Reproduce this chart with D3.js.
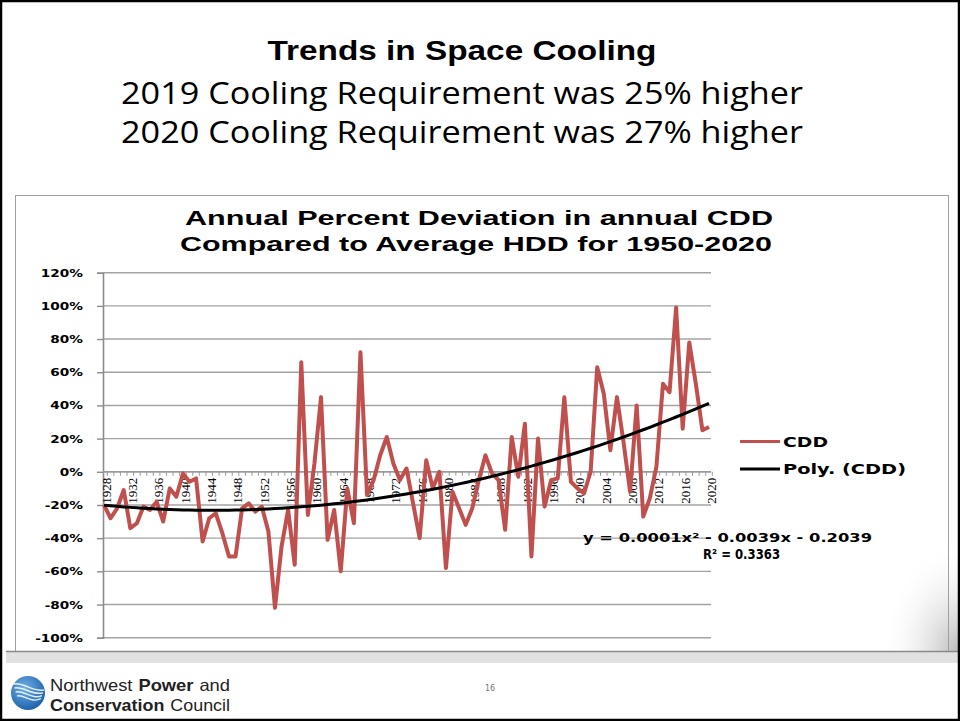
<!DOCTYPE html>
<html>
<head>
<meta charset="utf-8">
<script src="https://cdn.jsdelivr.net/npm/d3@7"></script>
<style>
  html, body { margin: 0; padding: 0; background: #fff; }
  svg { display: block; }
</style>
</head>
<body>
<svg id="chart" width="960" height="721"></svg>
<script>
// ---------------- DATA ----------------
const years = [1928,1929,1930,1931,1932,1933,1934,1935,1936,1937,
  1938,1939,1940,1941,1942,1943,1944,1945,1946,1947,
  1948,1949,1950,1951,1952,1953,1954,1955,1956,1957,
  1958,1959,1960,1961,1962,1963,1964,1965,1966,1967,
  1968,1969,1970,1971,1972,1973,1974,1975,1976,1977,
  1978,1979,1980,1981,1982,1983,1984,1985,1986,1987,
  1988,1989,1990,1991,1992,1993,1994,1995,1996,1997,
  1998,1999,2000,2001,2002,2003,2004,2005,2006,2007,
  2008,2009,2010,2011,2012,2013,2014,2015,2016,2017,
  2018,2019,2020];
// CDD percent deviation
const cddValues = [-20,-28,-22,-11,-34,-31,-21,-23,-18,-30,
  -10,-15,-1,-6,-4,-42,-28,-25,-37,-51,
  -51,-22,-19,-24,-21,-36,-82,-45,-23,-56,
  66,-26,5,45,-41,-23,-60,-10,-31,72,
  -14,-5,10,21,5,-5,2,-19,-40,7,
  -10,0,-58,-12,-22,-32,-22,-5,10,-1,
  -5,-35,21,-3,29,-51,20,-21,-5,-4,
  45,-6,-10,-13,0,63,47,13,45,18,
  -12,40,-27,-16,3,53,48,99,26,78,
  53,25,27];
const xTickLabels = [1928,1932,1936,1940,1944,1948,1952,1956,1960,1964,1968,1972,1976,1980,1984,1988,1992,1996,2000,2004,2008,2012,2016,2020];
const yTicks = [-100,-80,-60,-40,-20,0,20,40,60,80,100,120];
const seriesNames = ["CDD", "Poly. (CDD)"];
const equationText = "y = 0.0001x² - 0.0039x - 0.2039";
const r2Text = "R² = 0.3363";

// ---------------- HELPERS ----------------
const svg = d3.select("#chart");
function txt(g, s, x, y, o) {
  const t = g.append("text").attr("x", x).attr("y", y).text(s)
    .attr("font-family", o.family || "DejaVu Sans")
    .attr("font-size", o.size || 12)
    .attr("font-weight", o.weight || "normal")
    .attr("fill", o.fill || "#000")
    .attr("text-anchor", o.anchor || "start");
  if (o.width) t.attr("textLength", o.width).attr("lengthAdjust", "spacingAndGlyphs");
  if (o.stretch) {
    const w = t.node().getComputedTextLength();
    t.attr("textLength", w * o.stretch).attr("lengthAdjust", "spacingAndGlyphs");
  }
  return t;
}
// a line made of word runs with different weights, fitted to a total width
function runLine(g, parts, x, y, totalWidth, gap, o) {
  const nodes = parts.map(p => txt(g, p.s, 0, y, {family: o.family, size: o.size, weight: p.bold ? "bold" : "normal", fill: o.fill}));
  const widths = nodes.map(n => n.node().getComputedTextLength());
  const k = (totalWidth - gap * (parts.length - 1)) / d3.sum(widths);
  let cx = x;
  nodes.forEach((n, i) => {
    n.attr("x", cx).attr("textLength", widths[i] * k).attr("lengthAdjust", "spacingAndGlyphs");
    cx += widths[i] * k + gap;
  });
}

// ---------------- SLIDE ----------------
const defs = svg.append("defs");
const shade = defs.append("radialGradient").attr("id", "shade")
  .attr("cx", "100%").attr("cy", "100%").attr("r", "100%");
shade.append("stop").attr("offset", "0%").attr("stop-color", "#b8b8b8").attr("stop-opacity", 1);
shade.append("stop").attr("offset", "100%").attr("stop-color", "#ffffff").attr("stop-opacity", 0);
svg.append("rect").attr("x", 880).attr("y", 540).attr("width", 80).attr("height", 112).attr("fill", "url(#shade)");

// title block
txt(svg, "Trends in Space Cooling", 462, 60, {family: "Liberation Sans", size: 27, weight: "bold", anchor: "middle", width: 389});
txt(svg, "2019 Cooling Requirement was 25% higher", 462, 104, {family: "Open Sans", size: 31, anchor: "middle", width: 682});
txt(svg, "2020 Cooling Requirement was 27% higher", 462, 143, {family: "Open Sans", size: 31, anchor: "middle", width: 682});

// chart frame
svg.append("rect").attr("x", 15.5).attr("y", 195.5).attr("width", 933).attr("height", 456)
  .attr("fill", "none").attr("stroke", "#a0a0a0").attr("stroke-width", 1);

// chart title
txt(svg, "Annual Percent Deviation in annual CDD", 479, 225, {family: "Liberation Sans", size: 21, weight: "bold", anchor: "middle", width: 588});
txt(svg, "Compared to Average HDD for 1950-2020", 476, 251, {family: "Liberation Sans", size: 21, weight: "bold", anchor: "middle", width: 592});

// ---------------- SCALES ----------------
const x = d3.scalePoint().domain(years).range([104, 709]);
const y = d3.scaleLinear().domain([-100, 120]).range([637.7, 272.7]);
const plotLeft = 103, plotRight = 711;

// gridlines
const grid = svg.append("g");
grid.selectAll("line").data(yTicks).join("line")
  .attr("x1", plotLeft).attr("x2", plotRight)
  .attr("y1", d => y(d)).attr("y2", d => y(d))
  .attr("stroke", "#a3a3a3").attr("stroke-width", 1.4);

// y axis
const yAxis = svg.append("g").attr("transform", `translate(${plotLeft},0)`)
  .call(d3.axisLeft(y).tickValues(yTicks).tickSize(6).tickFormat(d => d + "%"));
yAxis.select(".domain").attr("stroke", "#8c8c8c").attr("stroke-width", 1.6);
yAxis.selectAll(".tick line").attr("stroke", "#8c8c8c").attr("stroke-width", 1.4);
yAxis.selectAll(".tick text").remove();
yTicks.forEach(v => {
  txt(svg, v + "%", 83, y(v) + 4, {family: "DejaVu Sans", size: 10.5, weight: "bold", anchor: "end", stretch: 1.3});
});

// x axis (at 0%)
const step = x.step();
const xAxisG = svg.append("g").attr("transform", `translate(0,${y(0)})`);
xAxisG.append("line").attr("x1", plotLeft).attr("x2", plotRight).attr("y1", 0).attr("y2", 0)
  .attr("stroke", "#9a9a9a").attr("stroke-width", 1.4);
xAxisG.selectAll("line.tk").data(years).join("line").attr("class", "tk")
  .attr("x1", d => x(d) + step / 2).attr("x2", d => x(d) + step / 2)
  .attr("y1", 0).attr("y2", 4).attr("stroke", "#9a9a9a").attr("stroke-width", 1);
xTickLabels.forEach(yr => {
  txt(xAxisG, String(yr), 0, 0, {family: "Liberation Sans Narrow", size: 12.5, anchor: "end", width: 26})
    .attr("dy", "0.35em")
    .attr("transform", `translate(${x(yr) + 2.5},6) rotate(-90)`);
});

// ---------------- SERIES ----------------
const cdd = years.map((yr, i) => ({yr, v: cddValues[i]}));
svg.append("path").datum(cdd)
  .attr("fill", "none").attr("stroke", "#C0504D").attr("stroke-width", 4)
  .attr("stroke-linejoin", "round")
  .attr("d", d3.line().x(d => x(d.yr)).y(d => y(d.v)));

// polynomial (order 2) least-squares trend of the CDD series, as Excel computes it
function polyFit2(xs, ys) {
  let S = Array.from({length: 5}, () => 0), T = [0, 0, 0];
  xs.forEach((xv, i) => {
    for (let k = 0; k < 5; k++) S[k] += Math.pow(xv, k);
    for (let k = 0; k < 3; k++) T[k] += ys[i] * Math.pow(xv, k);
  });
  const A = [[S[0], S[1], S[2], T[0]], [S[1], S[2], S[3], T[1]], [S[2], S[3], S[4], T[2]]];
  for (let i = 0; i < 3; i++) {
    for (let j = i + 1; j < 3; j++) {
      const f = A[j][i] / A[i][i];
      for (let k = i; k < 4; k++) A[j][k] -= f * A[i][k];
    }
  }
  const c = [0, 0, 0];
  for (let i = 2; i >= 0; i--) {
    let s = A[i][3];
    for (let k = i + 1; k < 3; k++) s -= A[i][k] * c[k];
    c[i] = s / A[i][i];
  }
  return c;
}
const idx = years.map((_, i) => i + 1);
const coef = polyFit2(idx, cddValues);
const trend = years.map((yr, i) => ({yr, v: coef[0] + coef[1] * (i + 1) + coef[2] * (i + 1) * (i + 1)}));
svg.append("path").datum(trend)
  .attr("fill", "none").attr("stroke", "#000").attr("stroke-width", 3)
  .attr("d", d3.line().x(d => x(d.yr)).y(d => y(d.v)).curve(d3.curveMonotoneX));

// equation
txt(svg, equationText, 872, 542, {family: "DejaVu Sans", size: 12, weight: "bold", anchor: "end", width: 289});
txt(svg, r2Text, 780, 559, {family: "DejaVu Sans", size: 13.5, weight: "bold", anchor: "end", width: 77});

// legend
const legColors = ["#C0504D", "#000"];
const legY = [441.5, 469];
const legW = [45, 123];
seriesNames.forEach((n, i) => {
  svg.append("line").attr("x1", 740).attr("x2", 780).attr("y1", legY[i]).attr("y2", legY[i])
    .attr("stroke", legColors[i]).attr("stroke-width", 3);
  txt(svg, n, 783, legY[i] + 5, {family: "DejaVu Sans", size: 13.5, weight: "bold", width: legW[i]});
});

// ---------------- FOOTER ----------------
svg.append("rect").attr("x", 6).attr("y", 651).attr("width", 954).attr("height", 12).attr("fill", "#e1e1e1");
svg.append("line").attr("x1", 6).attr("x2", 960).attr("y1", 651.5).attr("y2", 651.5).attr("stroke", "#8a8a8a").attr("stroke-width", 1.5);

const lg = defs.append("radialGradient").attr("id", "globe").attr("cx", "40%").attr("cy", "35%").attr("r", "70%");
lg.append("stop").attr("offset", "0%").attr("stop-color", "#6fb0e6");
lg.append("stop").attr("offset", "100%").attr("stop-color", "#1a5ea8");
svg.append("circle").attr("cx", 28).attr("cy", 693).attr("r", 17).attr("fill", "url(#globe)");
const arcs = svg.append("g").attr("fill", "none").attr("stroke", "#fff").attr("stroke-width", 1.4).attr("opacity", 0.85);
[0, 4, 8, 12].forEach(o => {
  arcs.append("path").attr("d", `M${13 + o / 3},${684 + o} C${24},${682 + o} ${32},${692 + o} ${44 - o / 4},${690 + o * 0.7}`);
});

runLine(svg, [{s: "Northwest"}, {s: "Power", bold: true}, {s: "and"}], 50, 691, 180, 6, {family: "Liberation Sans", size: 16.5, fill: "#222"});
runLine(svg, [{s: "Conservation", bold: true}, {s: "Council"}], 50, 711, 180, 6, {family: "Liberation Sans", size: 16.5, fill: "#222"});

txt(svg, "16", 490, 691, {family: "DejaVu Sans", size: 8, fill: "#777", anchor: "middle"});

// slide border
svg.append("rect").attr("x", 1).attr("y", 1).attr("width", 958).attr("height", 719)
  .attr("fill", "none").attr("stroke", "#000").attr("stroke-width", 2.5);
</script>
</body>
</html>
